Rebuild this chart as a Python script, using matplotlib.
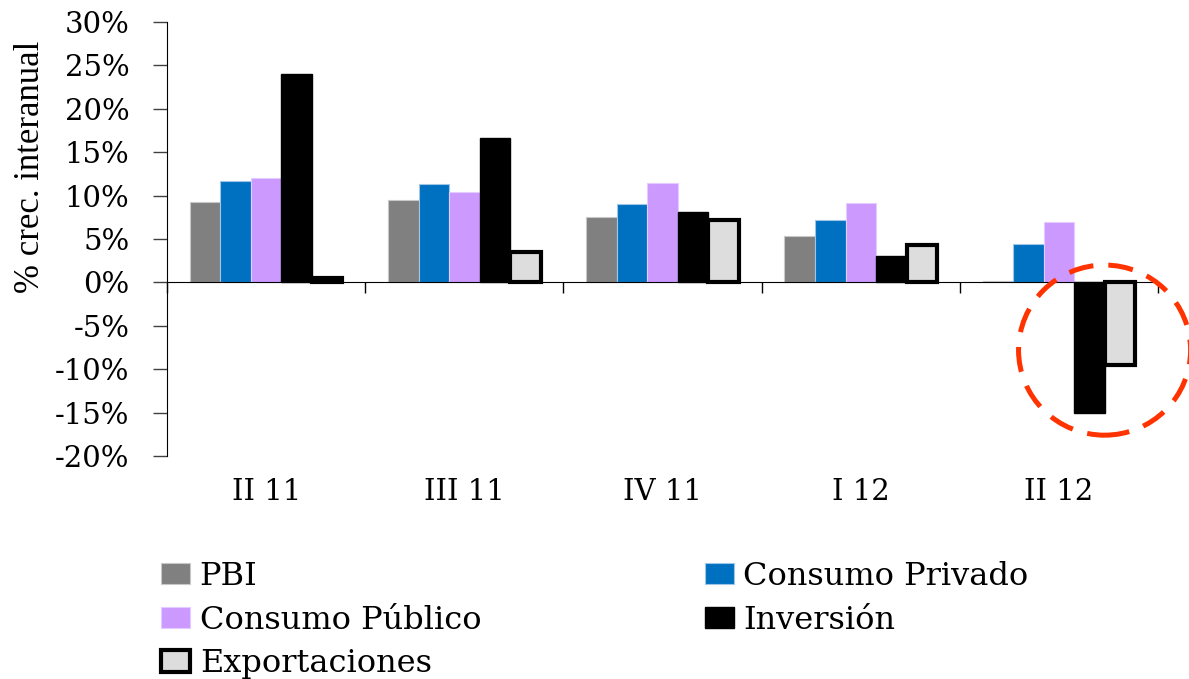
import matplotlib.pyplot as plt
from matplotlib.patches import Ellipse, Patch
import numpy as np

# data
quarters = ['II 11', 'III 11', 'IV 11', 'I 12', 'II 12']
series = ['PBI', 'Consumo Privado', 'Consumo Público', 'Inversión', 'Exportaciones']
pbi = [9.3, 9.5, 7.5, 5.4, 0.2]
cons_priv = [11.7, 11.3, 9.0, 7.2, 4.4]
cons_pub = [12.0, 10.4, 11.4, 9.1, 7.0]
inversion = [24.0, 16.6, 8.1, 3.0, -15.1]
exportac = [0.5, 3.5, 7.2, 4.3, -9.5]
yticks = [-20, -15, -10, -5, 0, 5, 10, 15, 20, 25, 30]

values = [pbi, cons_priv, cons_pub, inversion, exportac]
colors = ['#808080', '#0070C0', '#CC99FF', '#000000', '#DDDDDD']
edges = ['#c8c8c8', '#9fc6e6', '#e3ccff', '#000000', '#000000']
lws = [0.8, 0.8, 0.8, 1.0, 3.0]

serif = 'DejaVu Serif'
fs = 21

fig = plt.figure(figsize=(11.89, 6.79), dpi=100)
ax = fig.add_axes([0.1405, 0.3284, 0.974 - 0.1405, 0.9676 - 0.3284])

x = np.arange(len(quarters))
w = 0.154
for j, (vals, c, ec, lw) in enumerate(zip(values, colors, edges, lws)):
    ax.bar(x + (j - 2) * w, vals, w, color=c, edgecolor=ec, linewidth=lw,
           label=series[j], zorder=3 if j >= 3 else 2)

ax.set_xlim(-0.5, 4.5)
ax.set_ylim(-20, 30)

# y axis
ax.spines['top'].set_visible(False)
ax.spines['right'].set_visible(False)
ax.set_yticks(yticks)
ax.set_yticklabels([f'{t}%' for t in yticks], fontfamily=serif, fontsize=fs)
ax.tick_params(axis='y', direction='out', length=10, width=1, pad=17,
               color='#404040')
ax.set_ylabel('% crec. interanual', fontfamily='Liberation Serif', fontsize=25)
ax.yaxis.set_label_coords(-0.121, 0.666)

# x axis sits on zero, ticks at category boundaries
ax.spines['bottom'].set_position(('data', 0))
ax.set_xticks(np.arange(-0.5, 5, 1))
ax.set_xticklabels([])
ax.tick_params(axis='x', direction='out', length=8, width=1)
for i, q in enumerate(quarters):
    ax.text(i, -0.083, q, transform=ax.get_xaxis_transform(), ha='center',
            va='center', fontfamily=serif, fontsize=fs)

# highlight circle
circ = Ellipse((4.23, -7.8), 0.868, 19.6, fill=False, edgecolor='#FF3300',
               linewidth=3.6, linestyle=(0, (5, 3)), clip_on=False, zorder=5)
ax.add_patch(circ)

handles = [Patch(facecolor=c, edgecolor=ec, linewidth=lw)
           for c, ec, lw in zip(colors, edges, lws)]
# column-major order so rows read PBI / Consumo Privado, ...
order = [0, 2, 4, 1, 3]
leg = fig.legend([handles[i] for i in order], [series[i] for i in order],
                 loc='upper left', bbox_to_anchor=(0.125, 0.193), ncol=2,
                 frameon=False, prop={'family': serif, 'size': 23},
                 handlelength=0.9, handleheight=0.65, handletextpad=0.3,
                 columnspacing=7.0, labelspacing=0.4, borderaxespad=0)

fig.savefig('out.png', dpi=100)
